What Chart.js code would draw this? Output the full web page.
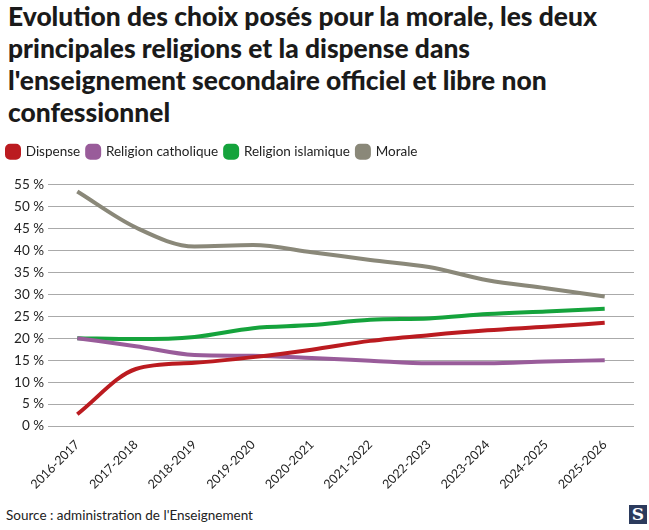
<!DOCTYPE html>
<html>
<head>
<meta charset="utf-8">
<script src="https://cdn.jsdelivr.net/npm/chart.js@4"></script>
<style>
  body { margin: 0; background: #fff; font-family: Lato, sans-serif; color: #222; }
  #title { position: absolute; left: 8px; top: 0px; font-size: 26.4px; font-weight: 900; line-height: 32px; white-space: nowrap; color: #1a1a1a; }
  #wrap { position: absolute; left: 0; top: 138px; width: 634px; height: 357px; }
  #source { position: absolute; left: 6px; top: 507px; font-size: 13.5px; color: #222; }
  #logo { position: absolute; left: 629px; top: 505px; width: 18px; height: 19px; background: #2b3a5c; color: #fff; font: bold 17px "DejaVu Serif", serif; text-align: center; line-height: 19px; }
</style>
</head>
<body>
<div id="title">Evolution des choix posés pour la morale, les deux<br>principales religions et la dispense dans<br>l'enseignement secondaire officiel et libre non<br>confessionnel</div>
<div id="wrap"><canvas id="lineChart"></canvas></div>
<div id="source">Source : administration de l'Enseignement</div>
<div id="logo">S</div>
<script>
const years = ['2016-2017', '2017-2018', '2018-2019', '2019-2020', '2020-2021',
    '2021-2022', '2022-2023', '2023-2024', '2024-2025', '2025-2026'];
const dispense = [2.7, 13.0, 14.4, 15.7, 17.4, 19.4, 20.7, 21.8, 22.6, 23.5];
const catholique = [20.0, 18.2, 16.2, 16.0, 15.5, 14.9, 14.3, 14.3, 14.7, 15.0];
const islamique = [20.0, 19.8, 20.3, 22.3, 23.0, 24.2, 24.5, 25.5, 26.1, 26.7];
const morale = [53.4, 45.2, 40.9, 41.2, 39.6, 37.8, 36.2, 33.2, 31.4, 29.5];
const yTicks = [0, 5, 10, 15, 20, 25, 30, 35, 40, 45, 50, 55];

function serie(label, values, color) {
    return {
        label: label,
        data: values,
        borderColor: color,
        backgroundColor: color,
        borderWidth: 4,
        pointRadius: 0,
        cubicInterpolationMode: 'monotone',
        fill: false
    };
}

// extra space under the legend
const legendGap = {
    id: 'legendGap',
    beforeInit(chart) {
        const fit = chart.legend.fit;
        chart.legend.fit = function () {
            fit.bind(chart.legend)();
            this.height += 16;
        };
    }
};

const data = {
    labels: years,
    datasets: [
        serie('Dispense', dispense, '#bb1b20'),
        serie('Religion catholique', catholique, '#995c9a'),
        serie('Religion islamique', islamique, '#15a33c'),
        serie('Morale', morale, '#8a8879')
    ]
};

const config = {
    type: 'line',
    data: data,
    plugins: [legendGap],
    options: {
        responsive: true,
        maintainAspectRatio: false,
        animation: false,
        plugins: {
            legend: {
                align: 'start',
                labels: {
                    boxWidth: 12,
                    boxHeight: 12,
                    useBorderRadius: true,
                    borderRadius: 3,
                    padding: 7,
                    color: '#222',
                    font: { family: 'Lato', size: 13.5 }
                }
            },
            tooltip: { enabled: false }
        },
        scales: {
            x: {
                offset: true,
                grid: { display: false },
                border: { display: false },
                ticks: {
                    maxRotation: 45,
                    minRotation: 45,
                    color: '#222',
                    font: { family: 'Lato', size: 12.5 }
                }
            },
            y: {
                min: 0,
                max: 55,
                afterBuildTicks: function (axis) {
                    axis.ticks = yTicks.map(function (v) { return { value: v }; });
                },
                afterFit: function (axis) { axis.width = 48; },
                grid: { color: '#aaaaaa', lineWidth: 1, drawTicks: false },
                border: { display: false },
                ticks: {
                    padding: 4,
                    color: '#222',
                    font: { family: 'Lato', size: 13.5 },
                    callback: function (v) { return v + ' %'; }
                }
            }
        }
    }
};

var myChart = new Chart(document.getElementById('lineChart'), config);
</script>
</body>
</html>
